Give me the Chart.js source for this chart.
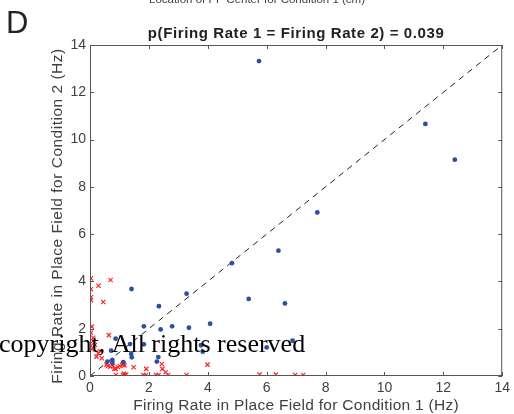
<!DOCTYPE html>
<html>
<head>
<meta charset="utf-8">
<script src="https://cdn.jsdelivr.net/npm/chart.js@4"></script>
<style>
  html, body { margin: 0; padding: 0; background: #fff; }
  #wrap { width: 514px; height: 414px; }
</style>
</head>
<body>
<div id="wrap"><canvas id="graph-taux" width="514" height="414"></canvas></div>
<script>
// Donnees
const tickValues = [0, 2, 4, 6, 8, 10, 12, 14];

const blueX = [5.74, 11.39, 12.39, 7.72, 6.40, 4.82, 5.39, 6.62, 1.41, 3.28, 2.34, 1.83, 2.79, 2.40, 3.36, 4.08,
  6.88, 6.00, 0.87, 1.36, 1.40, 1.42, 0.72, 3.77, 3.83, 0.59, 0.76, 0.76, 1.13, 2.32, 2.27, 1.83];
const blueY = [13.32, 10.66, 9.15, 6.92, 5.30, 4.77, 3.26, 3.07, 3.68, 3.48, 2.95, 2.10, 2.10, 1.97, 2.04, 2.21,
  1.49, 1.21, 1.58, 1.35, 0.93, 0.79, 1.07, 1.30, 1.03, 0.61, 0.68, 0.56, 0.59, 0.80, 0.61, 1.34];

const redX = [0.03, 0.29, 0.70, 0.03, 0.03, 0.03, 0.45, 0.06, 0.03, 0.64, 0.11, 0.11, 0.03, 0.17, 0.06, 0.28, 0.22, 0.35, 0.40,
  0.56, 0.61, 0.69, 0.78, 0.83, 0.87, 0.95, 1.01, 1.10, 1.14, 1.17, 1.48, 1.91, 2.44, 2.46, 2.57, 3.99,
  0.88, 1.12, 1.15, 1.19, 1.23, 1.81, 1.90, 2.24, 2.33, 2.65, 3.28, 5.76, 6.31, 6.97, 7.24];
const redY = [4.13, 3.82, 4.06, 3.67, 3.33, 3.21, 3.13, 2.09, 1.83, 1.73, 1.62, 1.48, 1.28, 1.31, 1.13, 0.96, 0.82, 1.05, 0.75,
  0.48, 0.42, 0.39, 0.42, 0.31, 0.30, 0.37, 0.42, 0.47, 0.51, 0.45, 0.37, 0.30, 0.51, 0.30, 0.16, 0.48,
  0.04, 0.04, 0.10, 0.04, 0.06, 0.04, 0.04, 0.04, 0.04, 0.04, 0.04, 0.06, 0.06, 0.04, 0.04];

const diagX = [0, 14];
const diagY = [0, 14];

const titre = 'p(Firing Rate 1 = Firing Rate 2) = 0.039';
const titreX = 'Firing Rate in Place Field for Condition 1 (Hz)';
const titreY = 'Firing Rate in Place Field for Condition 2 (Hz)';
const titreHaut = 'Location of PF Center for Condition 1 (cm)';

const couleurTexte = '#404040';
const couleurAxe = '#555555';

// Cadre et graduations vers l'interieur (style MATLAB) + textes
const cadrePlugin = {
  id: 'cadre',
  afterDatasetsDraw(chart) {
    const { ctx, chartArea: a, scales } = chart;
    ctx.save();
    ctx.strokeStyle = couleurAxe;
    ctx.lineWidth = 1;
    ctx.strokeRect(a.left + 0.5, a.top + 0.5, a.right - a.left - 1, a.bottom - a.top - 1);
    ctx.beginPath();
    tickValues.forEach(v => {
      const px = Math.round(scales.x.getPixelForValue(v)) + 0.5;
      ctx.moveTo(px, a.bottom); ctx.lineTo(px, a.bottom - 4);
      ctx.moveTo(px, a.top); ctx.lineTo(px, a.top + 4);
      const py = Math.round(scales.y.getPixelForValue(v)) + 0.5;
      ctx.moveTo(a.left, py); ctx.lineTo(a.left + 4, py);
      ctx.moveTo(a.right, py); ctx.lineTo(a.right - 4, py);
    });
    ctx.stroke();
    ctx.restore();
  },
  afterDraw(chart) {
    const { ctx, chartArea: a } = chart;
    const cx = (a.left + a.right) / 2;
    ctx.save();
    ctx.fillStyle = couleurTexte;
    ctx.textAlign = 'center';
    ctx.textBaseline = 'alphabetic';
    ctx.font = '11.5px "Liberation Sans", Arial, sans-serif';
    ctx.fillText(titreHaut, 257, 3);

    ctx.fillStyle = '#222';
    ctx.letterSpacing = '0.6px';
    ctx.font = 'bold 15px "Liberation Sans", Arial, sans-serif';
    ctx.fillText(titre, cx, 38);

    ctx.fillStyle = couleurTexte;
    ctx.letterSpacing = '0.3px';
    ctx.font = '15.5px "Liberation Sans", Arial, sans-serif';
    ctx.fillText(titreX, cx, 410);

    ctx.save();
    ctx.letterSpacing = '0.5px';
    ctx.translate(62, 216);
    ctx.rotate(-Math.PI / 2);
    ctx.fillText(titreY, 0, 0);
    ctx.restore();

    ctx.letterSpacing = '0px';
    ctx.fillStyle = '#222';
    ctx.textAlign = 'left';
    ctx.font = '31px "Liberation Sans", Arial, sans-serif';
    ctx.fillText('D', 6, 33);

    // filigrane present sur l'image
    ctx.fillStyle = '#000';
    ctx.font = '26px "Liberation Serif", "Times New Roman", serif';
    ctx.fillText('copyright, All rights reserved', -1, 352);
    ctx.restore();
  }
};

const ctx = document.getElementById('graph-taux').getContext('2d');
window.tauxChart = new Chart(ctx, {
  type: 'scatter',
  data: {
    datasets: [
      {
        label: 'Diagonale',
        data: diagX.map((x, i) => ({ x: x, y: diagY[i] })),
        showLine: true,
        borderColor: '#222',
        borderWidth: 1,
        borderDash: [6, 5],
        pointRadius: 0,
        order: 3
      },
      {
        label: 'Rouge',
        data: redX.map((x, i) => ({ x: x, y: redY[i] })),
        pointStyle: 'crossRot',
        pointRadius: 3,
        borderColor: '#ff2626',
        borderWidth: 1.2,
        order: 2
      },
      {
        label: 'Bleu',
        data: blueX.map((x, i) => ({ x: x, y: blueY[i] })),
        pointStyle: 'circle',
        pointRadius: 2.4,
        backgroundColor: '#2c4fa3',
        borderColor: '#2c4fa3',
        borderWidth: 0,
        order: 1
      }
    ]
  },
  options: {
    responsive: false,
    animation: false,
    layout: { padding: { left: 0, top: 45, right: 7, bottom: 0 } },
    plugins: {
      legend: { display: false },
      tooltip: { enabled: false },
      title: { display: false }
    },
    scales: {
      x: {
        type: 'linear',
        min: 0,
        max: 14,
        afterBuildTicks: s => { s.ticks = tickValues.map(v => ({ value: v })); },
        afterFit: s => { s.height = 38; },
        ticks: {
          color: couleurTexte,
          padding: 4,
          maxRotation: 0,
          font: { family: '"Liberation Sans", Arial, sans-serif', size: 14 }
        },
        grid: { display: false, drawTicks: false },
        border: { display: false }
      },
      y: {
        type: 'linear',
        min: 0,
        max: 14,
        afterBuildTicks: s => { s.ticks = tickValues.map(v => ({ value: v })); },
        afterFit: s => { s.width = 90; },
        ticks: {
          color: couleurTexte,
          padding: 4,
          font: { family: '"Liberation Sans", Arial, sans-serif', size: 14 }
        },
        grid: { display: false, drawTicks: false },
        border: { display: false }
      }
    }
  },
  plugins: [cadrePlugin]
});
</script>
</body>
</html>
